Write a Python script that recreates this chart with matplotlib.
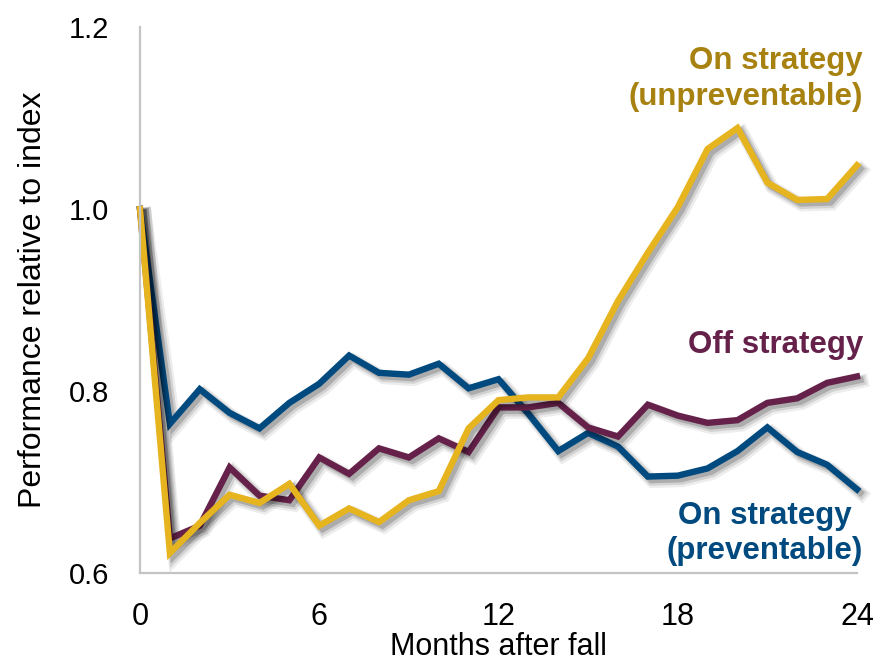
import matplotlib
matplotlib.use('Agg')
import matplotlib.pyplot as plt
import matplotlib.patheffects as pe

plt.rcParams['font.family'] = ['Liberation Sans', 'DejaVu Sans']

# ── Data: performance relative to index, by month after the fall ──────────────
months = list(range(25))
on_preventable = [1.000, 0.764, 0.802, 0.776, 0.759, 0.787, 0.808, 0.839, 0.820,
                  0.818, 0.830, 0.803, 0.813, 0.775, 0.734, 0.754, 0.739, 0.706,
                  0.707, 0.715, 0.734, 0.760, 0.733, 0.719, 0.692]
off_strategy = [1.000, 0.638, 0.652, 0.716, 0.685, 0.680, 0.727, 0.709, 0.737,
                0.727, 0.748, 0.733, 0.782, 0.782, 0.787, 0.760, 0.750, 0.785,
                0.773, 0.765, 0.768, 0.787, 0.792, 0.809, 0.816]
on_unpreventable = [1.000, 0.622, 0.655, 0.686, 0.677, 0.698, 0.652, 0.671, 0.656,
                    0.680, 0.690, 0.759, 0.790, 0.793, 0.793, 0.836, 0.899, 0.952,
                    1.002, 1.066, 1.089, 1.029, 1.010, 1.011, 1.048]

x_ticks = [0, 6, 12, 18, 24]
y_ticks = [0.6, 0.8, 1.0, 1.2]

BLUE = '#004A7F'
PLUM = '#65214A'
GOLD = '#E6B41E'
GOLD_TEXT = '#A88210'
LW = 4.6

# soft drop shadow built from a few stacked offset strokes
shadow = [
    pe.SimpleLineShadow(offset=(3.5, -3.5), shadow_color='black', alpha=0.07, linewidth=LW + 5),
    pe.SimpleLineShadow(offset=(3, -3), shadow_color='black', alpha=0.11, linewidth=LW + 2.5),
    pe.SimpleLineShadow(offset=(2.5, -2.5), shadow_color='black', alpha=0.18, linewidth=LW),
    pe.Normal(),
]

fig = plt.figure(figsize=(8.75, 6.64), dpi=100)
ax = fig.add_axes([0.16, 0.137, 0.8194, 0.8223])

for series, color in [(on_preventable, BLUE), (off_strategy, PLUM), (on_unpreventable, GOLD)]:
    ax.plot(months, series, color=color, lw=LW, solid_joinstyle='miter',
            clip_on=False, path_effects=shadow)

ax.set_xlim(0, 24)
ax.set_ylim(0.6, 1.2)
ax.set_xticks(x_ticks)
ax.set_yticks(y_ticks)
ax.set_yticklabels([f'{v:.1f}' for v in y_ticks])
ax.tick_params(axis='y', length=0, pad=22, labelsize=21)
ax.tick_params(axis='x', length=0, pad=21, labelsize=22)

for side in ('top', 'right'):
    ax.spines[side].set_visible(False)
for side in ('left', 'bottom'):
    ax.spines[side].set_color('#C4C4C4')
    ax.spines[side].set_linewidth(1.6)

ax.set_xlabel('Months after fall', fontsize=22, labelpad=0)
ax.set_ylabel('Performance relative to index', fontsize=23)
ax.yaxis.set_label_coords(-0.128, 0.5)

# series labels
ax.text(24.2, 1.143, 'On strategy\n(unpreventable)', color=GOLD_TEXT, fontsize=22.5,
        fontweight='bold', ha='right', va='center', multialignment='right',
        linespacing=1.28)
ax.text(24.2, 0.851, 'Off strategy', color=PLUM, fontsize=22.5,
        fontweight='bold', ha='right', va='center')
ax.text(20.9, 0.643, 'On strategy\n(preventable)', color=BLUE, fontsize=22.5,
        fontweight='bold', ha='center', va='center', multialignment='center',
        linespacing=1.22)

fig.savefig('out.png', dpi=100)
